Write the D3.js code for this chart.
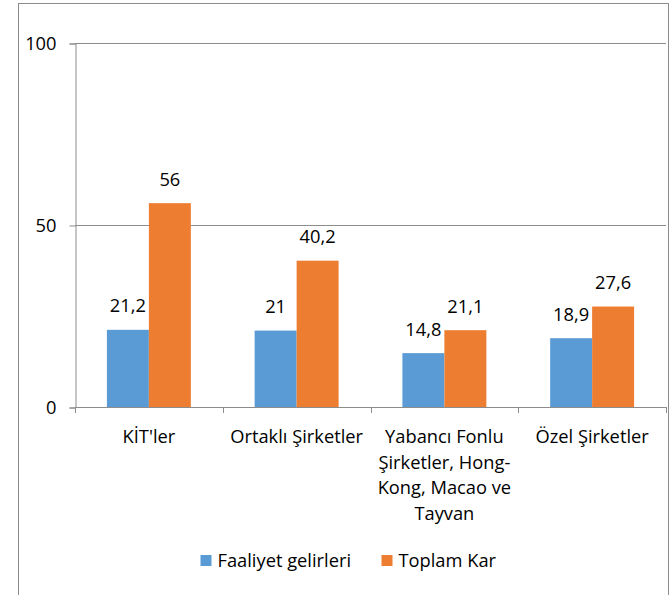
<!DOCTYPE html>
<html>
<head>
<meta charset="utf-8">
<script src="https://cdn.jsdelivr.net/npm/d3@7"></script>
<style>
  body { margin: 0; background: #fff; }
  text { font-family: "Open Sans", sans-serif; fill: #000; }
</style>
</head>
<body>
<div id="chart"></div>
<script>
// Chart data
const categories = ["KİT'ler", "Ortaklı Şirketler", "Yabancı Fonlu Şirketler, Hong-Kong, Macao ve Tayvan", "Özel Şirketler"];
const seriesNames = ["Faaliyet gelirleri", "Toplam Kar"];
const faaliyetGelirleri = [21.2, 21, 14.8, 18.9];
const toplamKar = [56, 40.2, 21.1, 27.6];
const yTicks = [0, 50, 100];
const colors = ["#5B9BD5", "#ED7D31"];

const width = 672, height = 595;
const margin = { top: 43, right: 6, bottom: 188, left: 75 };
const fontSize = 18.3;

const svg = d3.select('#chart')
    .append('svg')
    .attr('width', width)
    .attr('height', height);

// Outer chart border (bottom runs off the picture)
svg.append('rect')
    .attr('x', 18.5)
    .attr('y', 3.5)
    .attr('width', 650)
    .attr('height', 620)
    .attr('fill', 'none')
    .attr('stroke', '#8c8c8c');

const innerW = width - margin.left - margin.right;
const innerH = height - margin.top - margin.bottom;

const g = svg.append('g')
    .attr('transform', `translate(${margin.left}, ${margin.top})`);

// Scales
const x0 = d3.scaleBand().domain(categories).range([0, innerW]).padding(0);
const x1 = d3.scaleBand().domain(seriesNames).range([0, x0.bandwidth()])
    .paddingInner(0).paddingOuter(0.76);
const y = d3.scaleLinear().domain([0, 100]).range([innerH, 0]);

// Gridlines
g.selectAll('.grid')
    .data(yTicks.filter(d => d > 0))
    .enter().append('line')
    .attr('x1', 0).attr('x2', innerW)
    .attr('y1', d => y(d) + 0.5).attr('y2', d => y(d) + 0.5)
    .attr('stroke', '#8c8c8c');

// Y axis
const yAxis = d3.axisLeft(y).tickValues(yTicks).tickSize(6).tickFormat(d3.format('d'));
const yAxisGroup = g.append('g').attr('transform', 'translate(0.5,0.5)').call(yAxis);
yAxisGroup.select('.domain').attr('stroke', '#8c8c8c');
yAxisGroup.selectAll('.tick line').attr('stroke', '#8c8c8c');
yAxisGroup.selectAll('.tick text')
    .attr('font-size', fontSize)
    .style('font-family', '"Open Sans", sans-serif')
    .attr('fill', '#000')
    .attr('x', -19);

// Bars
const rows = categories.map((c, i) => ({ cat: c, values: [faaliyetGelirleri[i], toplamKar[i]] }));

const groups = g.selectAll('.grp')
    .data(rows)
    .enter().append('g')
    .attr('transform', d => `translate(${x0(d.cat)},0)`);

groups.selectAll('rect')
    .data(d => d.values.map((v, k) => ({ name: seriesNames[k], v: v, k: k })))
    .enter().append('rect')
    .attr('x', d => x1(d.name))
    .attr('width', x1.bandwidth())
    .attr('y', d => y(d.v))
    .attr('height', d => y(0) - y(d.v))
    .attr('fill', d => colors[d.k]);

// Data labels
const fmt = v => String(v).replace('.', ',');
groups.selectAll('.lbl')
    .data(d => d.values.map((v, k) => ({ name: seriesNames[k], v: v })))
    .enter().append('text')
    .attr('x', d => x1(d.name) + x1.bandwidth() / 2)
    .attr('y', d => y(d.v) - 17.5)
    .attr('text-anchor', 'middle')
    .attr('font-size', fontSize)
    .text(d => fmt(d.v));

// X axis line with boundary ticks
g.append('line')
    .attr('x1', 0).attr('x2', innerW)
    .attr('y1', innerH + 0.5).attr('y2', innerH + 0.5)
    .attr('stroke', '#8c8c8c');
g.selectAll('.xtick')
    .data(categories.map(c => x0(c)).concat([innerW]))
    .enter().append('line')
    .attr('x1', d => Math.round(d) + 0.5).attr('x2', d => Math.round(d) + 0.5)
    .attr('y1', innerH).attr('y2', innerH + 6)
    .attr('stroke', '#8c8c8c');

// Wrapped category labels
function wrapWords(text, maxW, measure) {
  const tokens = text.match(/[^\s-]+-?\s*|\s+/g);
  const lines = [];
  let cur = '';
  tokens.forEach(t => {
    const test = cur + t;
    if (cur && measure(test.trim()) > maxW) {
      lines.push(cur.trim());
      cur = t;
    } else {
      cur = test;
    }
  });
  if (cur.trim()) lines.push(cur.trim());
  return lines;
}

const measurer = svg.append('text').attr('font-size', fontSize);
const measure = s => { measurer.text(s); return measurer.node().getComputedTextLength(); };

categories.forEach(c => {
  const lines = wrapWords(c, x0.bandwidth() - 2, measure);
  const t = g.append('text')
      .attr('text-anchor', 'middle')
      .attr('font-size', fontSize)
      .attr('transform', `translate(${x0(c) + x0.bandwidth() / 2},${innerH + 36})`);
  lines.forEach((l, i) => {
    t.append('tspan').attr('x', 0).attr('y', i * 25.5).text(l);
  });
});
measurer.remove();

// Legend
const legend = svg.append('g').attr('transform', 'translate(200.5,555)');
const legendX = [0, 181];
seriesNames.forEach((n, i) => {
  const item = legend.append('g').attr('transform', `translate(${legendX[i]},0)`);
  item.append('rect').attr('width', 11).attr('height', 11).attr('fill', colors[i]);
  item.append('text').attr('x', 17).attr('y', 11.5).attr('font-size', fontSize).text(n);
});
</script>
</body>
</html>
